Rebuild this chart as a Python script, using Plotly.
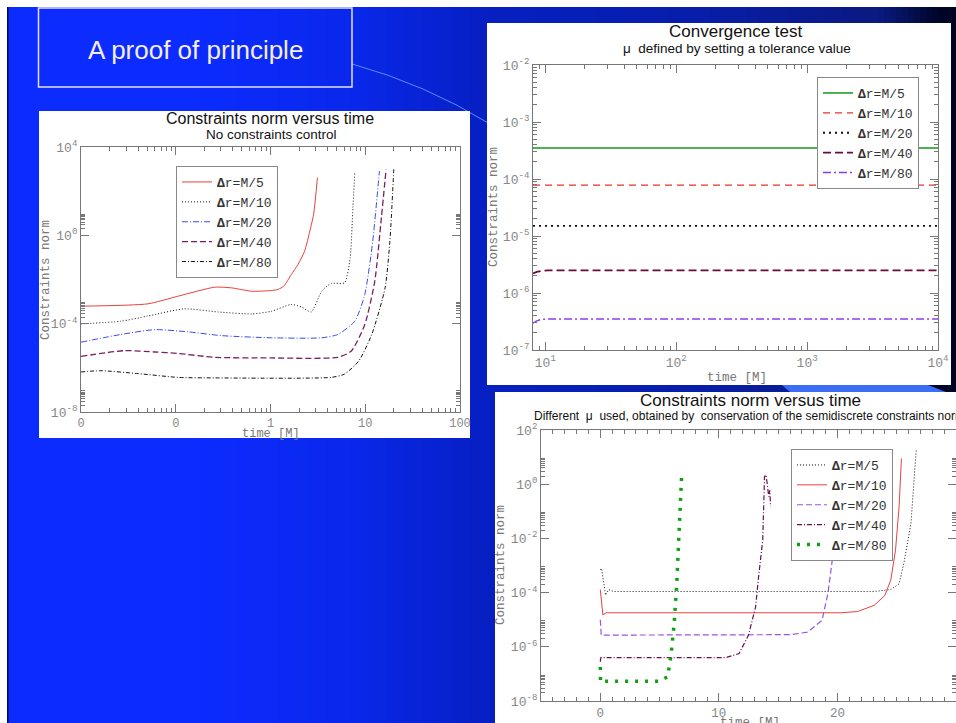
import numpy as np
import plotly.graph_objects as go

W, H = 956, 723

# ---------------- DATA ----------------
series_names = ["M/5", "M/10", "M/20", "M/40", "M/80"]

# Chart A: Constraints norm versus time (no constraints control)
a_tick_vals = [0.01, 0.1, 1, 10, 100]
a_tick_text = ["0", "0", "1", "10", "100"]
a_y_tick_vals = [1e-8, 1e-4, 1, 1e4]
a_y_tick_text = ["10<sup>-8</sup>", "10<sup>-4</sup>", "10<sup>0</sup>", "10<sup>4</sup>"]

a_x_m5 = [0.01, 0.0507, 0.105, 0.257, 0.389, 0.63, 1.02, 1.2, 1.38, 1.66, 1.95, 2.29, 2.55, 2.85, 3.13]
a_y_m5 = [6.2e-4, 7.9e-4, 1.74e-3, 4.47e-3, 4.17e-3, 2.95e-3, 3.16e-3, 3.55e-3, 5.0e-3, 1.7e-2, 4.8e-2, 0.19, 1.1, 8.9, 407]

a_x_m10 = [0.01, 0.0263, 0.0501, 0.123, 0.279, 0.631, 1.02, 1.66, 2.14, 2.69, 3.47, 4.37, 6.03, 6.92, 7.41, 7.76]
a_y_m10 = [9.8e-5, 1.29e-4, 2.19e-4, 4.68e-4, 3.39e-4, 2.75e-4, 3.63e-4, 7.4e-4, 5.6e-4, 3.39e-4, 2.95e-3, 6.6e-3, 7.1e-3, 0.095, 17.8, 692]

a_x_m20 = [0.01, 0.0263, 0.0603, 0.135, 0.302, 1.02, 3.47, 5.13, 7.76, 9.89, 12.0, 14.1]
a_y_m20 = [1.45e-5, 3.24e-5, 5.37e-5, 4.27e-5, 2.88e-5, 2.29e-5, 2.29e-5, 3.24e-5, 1.29e-4, 2.09e-3, 0.55, 813]

a_x_m40 = [0.01, 0.0288, 0.0603, 0.105, 0.257, 1.02, 5.13, 7.08, 9.89, 12.6, 14.8, 16.6]
a_y_m40 = [3.3e-6, 6.0e-6, 5.2e-6, 4.5e-6, 3.0e-6, 2.8e-6, 3.0e-6, 5.6e-6, 9.1e-5, 8.3e-3, 6.3, 977]

a_x_m80 = [0.01, 0.0162, 0.0398, 0.105, 0.257, 4.37, 6.03, 8.51, 11.7, 16.2, 18.2, 20.0]
a_y_m80 = [6.5e-7, 7.4e-7, 5.5e-7, 3.7e-7, 3.5e-7, 3.7e-7, 5.2e-7, 2.0e-6, 3.2e-5, 4.2e-3, 0.55, 977]

# Chart B: Convergence test
b_x_tick_vals = [10, 100, 1000, 10000]
b_x_tick_text = ["10<sup>1</sup>", "10<sup>2</sup>", "10<sup>3</sup>", "10<sup>4</sup>"]
b_y_tick_vals = [1e-7, 1e-6, 1e-5, 1e-4, 1e-3, 1e-2]
b_y_tick_text = ["10<sup>-7</sup>", "10<sup>-6</sup>", "10<sup>-5</sup>", "10<sup>-4</sup>", "10<sup>-3</sup>", "10<sup>-2</sup>"]

b_x_flat = [8.05, 10000]
b_y_m5 = [3.5e-4, 3.5e-4]
b_y_m10 = [7.8e-5, 7.8e-5]
b_y_m20 = [1.5e-5, 1.5e-5]
b_x_ramp = [8.05, 8.6, 9.4, 10.5, 10000]
b_y_m40 = [2.2e-6, 2.35e-6, 2.45e-6, 2.5e-6, 2.5e-6]
b_y_m80 = [2.95e-7, 3.25e-7, 3.45e-7, 3.5e-7, 3.5e-7]

# Chart C: Constraints norm versus time (different mu)
c_x_tick_vals = [0, 10, 20, 30]
c_x_tick_text = ["0", "10", "20", "30"]
c_y_tick_vals = [1e-8, 1e-6, 1e-4, 1e-2, 1, 100]
c_y_tick_text = ["10<sup>-8</sup>", "10<sup>-6</sup>", "10<sup>-4</sup>", "10<sup>-2</sup>", "10<sup>0</sup>", "10<sup>2</sup>"]

c_x_m5 = [0, 0.1, 0.25, 0.45, 0.7, 1.1, 10, 20, 23.1, 24.5, 25.2, 25.6, 26.2, 26.5, 26.65]
c_y_m5 = [6.8e-4, 7.8e-4, 3e-4, 8e-5, 1.3e-4, 1.1e-4, 1.1e-4, 1.1e-4, 1.1e-4, 1.3e-4, 2.1e-4, 1.2e-3, 3.5e-2, 2.5, 19.5]

c_x_m10 = [0, 0.05, 0.22, 0.5, 20.3, 21.7, 23.1, 24.0, 24.5, 24.9, 25.2, 25.4]
c_y_m10 = [1.3e-4, 8e-5, 1.5e-5, 1.8e-5, 1.8e-5, 2.0e-5, 3.4e-5, 7.9e-5, 2.9e-4, 3.7e-3, 0.148, 8.9]

c_x_m20 = [0, 0.08, 16.1, 17.5, 18.7, 19.2, 19.6, 20.06]
c_y_m20 = [1e-5, 2.7e-6, 2.8e-6, 3.5e-6, 9.5e-6, 9.3e-5, 2.1e-3, 3.1e-2]

c_x_m40 = [0, 0.05, 10.6, 11.7, 12.5, 13.1, 13.35, 13.7, 13.85, 13.97, 14.1, 14.2, 14.3, 14.36]
c_y_m40 = [2.8e-7, 4e-7, 4e-7, 5.6e-7, 2.7e-6, 2.95e-5, 3.8e-4, 8.7e-3, 1.9, 2.2, 0.9, 0.35, 0.6, 0.15]

c_x_m80 = [0, 0.02, 0.1, 4.97, 5.67, 5.95, 6.23, 6.45, 6.65, 6.82, 6.87]
c_y_m80 = [1.8e-7, 5e-8, 5.4e-8, 5.4e-8, 7.8e-8, 4.3e-7, 7.2e-6, 2.1e-4, 2.0e-2, 0.6, 2.5]

x_title = "time [M]"
y_title = "Constraints norm"

# ---------------- HELPERS ----------------
def px(x):
    return x / W

def py(y):
    return 1 - y / H

def minor_vals(exps):
    return [k * 10.0 ** m for m in exps for k in range(2, 10)]

MONO = "Liberation Mono"
SANS = "Liberation Sans"

def axis_style(**kw):
    d = dict(showline=True, linecolor="#777", linewidth=1, mirror="ticks",
             ticks="inside", tickcolor="#777", ticklen=8, tickwidth=1,
             showgrid=False, zeroline=False, automargin=False,
             tickfont=dict(family=MONO, size=13, color="#888"))
    d.update(kw)
    return d

def lab(n):
    return "<b>Δ</b>r=" + n

fig = go.Figure()

# Chart A traces
a_styles = [
    dict(color="#e8403a", width=1, dash="solid"),
    dict(color="#111111", width=1, dash="1px,2px"),
    dict(color="#3a4ae8", width=1, dash="6px,2px,1px,2px"),
    dict(color="#7a2060", width=1.3, dash="6px,3px"),
    dict(color="#111111", width=1, dash="4px,2px,1px,2px"),
]
a_data = [(a_x_m5, a_y_m5), (a_x_m10, a_y_m10), (a_x_m20, a_y_m20), (a_x_m40, a_y_m40), (a_x_m80, a_y_m80)]
for name, (xs, ys), st in zip(series_names, a_data, a_styles):
    fig.add_trace(go.Scatter(x=xs, y=ys, mode="lines", name=lab(name), line=dict(shape="spline", smoothing=0.6, **st),
                             xaxis="x", yaxis="y", legend="legend"))

# Chart B traces
b_styles = [
    dict(color="#13981a", width=1.5, dash="solid"),
    dict(color="#e8302a", width=1.2, dash="7px,5px"),
    dict(color="#111111", width=1.8, dash="2px,4px"),
    dict(color="#6a0a3a", width=1.8, dash="8px,4px"),
    dict(color="#8a3ee8", width=1.5, dash="8px,3px,2px,3px"),
]
b_data = [(b_x_flat, b_y_m5), (b_x_flat, b_y_m10), (b_x_flat, b_y_m20), (b_x_ramp, b_y_m40), (b_x_ramp, b_y_m80)]
for name, (xs, ys), st in zip(series_names, b_data, b_styles):
    fig.add_trace(go.Scatter(x=xs, y=ys, mode="lines", name=lab(name), line=st,
                             xaxis="x2", yaxis="y2", legend="legend2"))

# Chart C traces
c_styles = [
    dict(color="#111111", width=1, dash="1px,2px"),
    dict(color="#e84040", width=1, dash="solid"),
    dict(color="#9955dd", width=1.2, dash="6px,3px"),
    dict(color="#6a1048", width=1.2, dash="5px,2px,1px,2px"),
    dict(color="#12a012", width=3.5, dash="3px,7px"),
]
c_data = [(c_x_m5, c_y_m5), (c_x_m10, c_y_m10), (c_x_m20, c_y_m20), (c_x_m40, c_y_m40), (c_x_m80, c_y_m80)]
for name, (xs, ys), st in zip(series_names, c_data, c_styles):
    fig.add_trace(go.Scatter(x=xs, y=ys, mode="lines", name=lab(name), line=st,
                             xaxis="x3", yaxis="y3", legend="legend3"))

# ---------------- BACKGROUND SHAPES ----------------
shapes = []
shapes.append(dict(type="rect", xref="paper", yref="paper", x0=0, x1=1, y0=0, y1=1,
                   fillcolor="white", line_width=0, layer="below"))
cx = [8, 200, 350, 490, 700, 880, 940, 956]
cr = [12, 12, 10, 6, 8, 10, 0, 0]
cg = [44, 44, 40, 32, 30, 26, 5, 4]
cb = [255, 255, 235, 194, 170, 128, 40, 35]
step = 6
for x0 in range(8, 956, step):
    xm = x0 + step / 2
    col = "rgb(%d,%d,%d)" % (np.interp(xm, cx, cr), np.interp(xm, cx, cg), np.interp(xm, cx, cb))
    shapes.append(dict(type="rect", xref="paper", yref="paper", x0=px(x0), x1=px(min(x0 + step + 0.5, 956)),
                       y0=0, y1=py(7), fillcolor=col, line_width=0, layer="below"))
# dark left edge line
shapes.append(dict(type="rect", xref="paper", yref="paper", x0=px(7), x1=px(8.5), y0=0, y1=py(7),
                   fillcolor="rgb(0,12,90)", line_width=0, layer="below"))
# decorative arc
shapes.append(dict(type="path", xref="paper", yref="paper",
                   path="M %f,%f Q %f,%f %f,%f" % (px(352), py(64), px(425), py(84), px(490), py(124)),
                   line=dict(color="rgb(90,140,255)", width=1), layer="below"))
# swoosh under top-right panel
shapes.append(dict(type="path", xref="paper", yref="paper",
                   path="M %f,%f L %f,%f L %f,%f L %f,%f Z" % (px(782), py(385), px(928), py(385),
                                                              px(946), py(392), px(790), py(392)),
                   fillcolor="rgb(60,110,245)", line_width=0, layer="below"))
# title box
shapes.append(dict(type="rect", xref="paper", yref="paper", x0=px(38.5), x1=px(352), y0=py(87), y1=py(8),
                   line=dict(color="rgb(225,225,245)", width=1.5), fillcolor="rgba(0,0,0,0)", layer="below"))
# white panels
for (x0, y0, x1, y1) in [(39, 111, 470, 438), (487, 23, 951, 385), (495, 392, 956, 723)]:
    shapes.append(dict(type="rect", xref="paper", yref="paper", x0=px(x0), x1=px(x1), y0=py(y1), y1=py(y0),
                       fillcolor="white", line_width=0, layer="below"))

# ---------------- ANNOTATIONS ----------------
ann = []
def text(x, y, s, size, family=SANS, color="#111", xanchor="center", angle=0):
    ann.append(dict(x=px(x), y=py(y), xref="paper", yref="paper", text=s, showarrow=False,
                    xanchor=xanchor, yanchor="middle", textangle=angle,
                    font=dict(family=family, size=size, color=color)))

text(195, 50, "A proof of principle", 26, color="rgb(245,238,228)")
text(270, 119, "Constraints norm versus time", 16)
text(271, 134, "No constraints control", 13.5)
text(736, 32, "Convergence test", 17)
text(737, 49, "μ  defined by setting a tolerance value", 13.5)
text(750, 400, "Constraints norm versus time", 17)
text(532, 416, "Different  μ  used, obtained by  conservation of the semidiscrete constraints norm", 12, xanchor="left")

# axis titles
text(46, 280, y_title, 12.5, family=MONO, color="#777", angle=-90)
text(271, 434, x_title, 12, family=MONO, color="#777")
text(494, 207, y_title, 12.5, family=MONO, color="#777", angle=-90)
text(737, 378, x_title, 12.5, family=MONO, color="#777")
text(501, 565, y_title, 12.5, family=MONO, color="#777", angle=-90)
text(750, 723, x_title, 12.5, family=MONO, color="#777")

# ---------------- LAYOUT ----------------
leg_common = dict(xanchor="left", yanchor="top", bgcolor="white", bordercolor="#888", borderwidth=1,
                  font=dict(family=MONO, size=13, color="#333"), tracegroupgap=0, itemwidth=30)

fig.update_layout(
    width=W, height=H, margin=dict(l=0, r=0, t=0, b=0, autoexpand=False),
    paper_bgcolor="white", plot_bgcolor="white", showlegend=True,
    shapes=shapes, annotations=ann,
    legend=dict(x=px(176), y=py(166), **leg_common),
    legend2=dict(x=px(817), y=py(77), **leg_common),
    legend3=dict(x=px(791), y=py(449), **leg_common),
    xaxis=axis_style(type="log", domain=[px(81), px(460)], range=[-2, 2], anchor="y",
                     tickmode="array", tickvals=a_tick_vals, ticktext=a_tick_text,
                     tickfont=dict(family=MONO, size=12, color="#888"),
                     minor=dict(ticks="inside", ticklen=4, tickcolor="#777", tickmode="array",
                                tickvals=minor_vals([-2, -1, 0, 1]))),
    yaxis=axis_style(type="log", domain=[py(412), py(147)], range=[-8, 4], anchor="x",
                     tickmode="array", tickvals=a_y_tick_vals, ticktext=a_y_tick_text,
                     minor=dict(ticks="inside", ticklen=4, tickcolor="#777", tickmode="array",
                                tickvals=minor_vals([-8, -4, 0]))),
    xaxis2=axis_style(type="log", domain=[px(533), px(938)], range=[np.log10(8.05), 4], anchor="y2",
                      tickmode="array", tickvals=b_x_tick_vals, ticktext=b_x_tick_text,
                      minor=dict(ticks="inside", ticklen=4, tickcolor="#777", tickmode="array",
                                 tickvals=minor_vals([0, 1, 2, 3]))),
    yaxis2=axis_style(type="log", domain=[py(350), py(65)], range=[-7, -2], anchor="x2",
                      tickmode="array", tickvals=b_y_tick_vals, ticktext=b_y_tick_text,
                      minor=dict(ticks="inside", ticklen=4, tickcolor="#777", tickmode="array",
                                 tickvals=minor_vals([-7, -6, -5, -4, -3]))),
    xaxis3=axis_style(domain=[px(541), 1.0], range=[-5, 30], anchor="y3",
                      tickmode="array", tickvals=c_x_tick_vals, ticktext=c_x_tick_text,
                      tickfont=dict(family=MONO, size=12.5, color="#888"),
                      minor=dict(ticks="inside", ticklen=4, tickcolor="#777", dtick=1, tick0=0)),
    yaxis3=axis_style(type="log", domain=[py(701), py(430)], range=[-8, 2], anchor="x3",
                      tickmode="array", tickvals=c_y_tick_vals, ticktext=c_y_tick_text,
                      minor=dict(ticks="inside", ticklen=4, tickcolor="#777", tickmode="array",
                                 tickvals=minor_vals([-8, -6, -4, -2, 0]))),
)

fig.write_html("out.html", config={"displayModeBar": False},
               post_script="document.body.style.margin='0';document.body.style.overflow='hidden';"
                           "document.documentElement.style.overflow='hidden';")
